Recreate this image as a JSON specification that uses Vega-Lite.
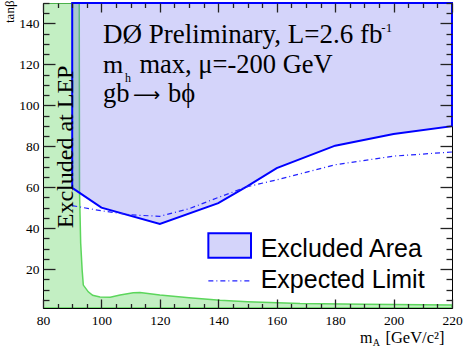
{
  "$schema": "https://vega.github.io/schema/vega-lite/v6.json",
  "width": 409,
  "height": 305,
  "autosize": {"type": "none"},
  "padding": {"left": 43, "top": 3, "right": 11, "bottom": 41},
  "background": "white",
  "config": {
    "view": {"stroke": "black", "strokeWidth": 1, "fill": null},
    "axis": {
      "labelFont": "Liberation Serif",
      "labelFontSize": 13.5,
      "labelColor": "black",
      "domainColor": "black",
      "tickColor": "#222222",
      "tickWidth": 1.3,
      "tickOpacity": 1,
      "grid": false,
      "labelFlush": false,
      "labelOverlap": false,
      "titleFont": "Liberation Serif",
      "titleFontWeight": "normal",
      "titleColor": "black"
    }
  },
  "datasets": {
    "lep": [
      {"mA": 80, "tanb": 150},
      {"mA": 92.4, "tanb": 150},
      {"mA": 92.5, "tanb": 58},
      {"mA": 92.9, "tanb": 32.6},
      {"mA": 93.4, "tanb": 19.5},
      {"mA": 93.8, "tanb": 12.2},
      {"mA": 95.5, "tanb": 8.9},
      {"mA": 97, "tanb": 7.2},
      {"mA": 99.5, "tanb": 6.4},
      {"mA": 103, "tanb": 6.2},
      {"mA": 106.4, "tanb": 7.3},
      {"mA": 110.9, "tanb": 8.4},
      {"mA": 113.2, "tanb": 8.6},
      {"mA": 120, "tanb": 7.3},
      {"mA": 130, "tanb": 6.0},
      {"mA": 140.6, "tanb": 4.8},
      {"mA": 150, "tanb": 4.1},
      {"mA": 168, "tanb": 3.2},
      {"mA": 190, "tanb": 2.8},
      {"mA": 220, "tanb": 2.5}
    ],
    "obs": [
      {"mA": 90, "tanb": 59.7, "top": 150},
      {"mA": 100, "tanb": 50, "top": 150},
      {"mA": 120, "tanb": 42.1, "top": 150},
      {"mA": 140, "tanb": 52.2, "top": 150},
      {"mA": 150, "tanb": 60.5, "top": 150},
      {"mA": 160, "tanb": 69.3, "top": 150},
      {"mA": 180, "tanb": 80.3, "top": 150},
      {"mA": 200, "tanb": 86.0, "top": 150},
      {"mA": 220, "tanb": 89.8, "top": 150}
    ],
    "exp": [
      {"mA": 90, "tanb": 51},
      {"mA": 100, "tanb": 48.5},
      {"mA": 110, "tanb": 46.5},
      {"mA": 120, "tanb": 45.8},
      {"mA": 130, "tanb": 49.5},
      {"mA": 140, "tanb": 55},
      {"mA": 150, "tanb": 60.3},
      {"mA": 160, "tanb": 63.6},
      {"mA": 180, "tanb": 71},
      {"mA": 200, "tanb": 75.2},
      {"mA": 220, "tanb": 77.2}
    ]
  },
  "resolve": {"axis": {"x": "independent", "y": "independent"}},
  "layer": [
    {
      "data": {"name": "lep"},
      "mark": {"type": "area", "fill": "#44cc44", "fillOpacity": 0.32, "stroke": "#5cd65c", "strokeWidth": 1.5, "clip": true},
      "encoding": {
        "x": {
          "field": "mA", "type": "quantitative",
          "scale": {"domain": [80, 220], "nice": false, "zero": false},
          "axis": {
            "orient": "bottom", "title": null, "ticks": false, "zindex": 1,
            "values": [80, 100, 120, 140, 160, 180, 200, 220],
            "labelPadding": 5
          }
        },
        "y": {
          "field": "tanb", "type": "quantitative",
          "scale": {"domain": [1, 150], "nice": false, "zero": false},
          "axis": {
            "orient": "left", "title": "tanβ", "titleFontSize": 13, "ticks": false, "zindex": 1,
            "titleAngle": -90, "titleX": -30, "titleY": -3, "titleAlign": "right", "titleBaseline": "alphabetic", "titleAnchor": null,
            "values": [20, 40, 60, 80, 100, 120, 140],
            "labelPadding": 4
          }
        },
        "y2": {"datum": 1}
      }
    },
    {
      "data": {"name": "obs"},
      "mark": {"type": "area", "fill": "#6666ee", "fillOpacity": 0.28, "stroke": "#0000ff", "strokeWidth": 2},
      "encoding": {
        "x": {
          "field": "mA", "type": "quantitative",
          "scale": {"domain": [80, 220], "nice": false, "zero": false},
          "axis": {
            "orient": "bottom", "title": null, "labels": false, "domain": false, "zindex": 2,
            "values": [80, 100, 120, 140, 160, 180, 200, 220],
            "tickSize": 9, "offset": -9
          }
        },
        "y": {
          "field": "tanb", "type": "quantitative",
          "scale": {"domain": [1, 150], "nice": false, "zero": false},
          "axis": {
            "orient": "left", "title": null, "labels": false, "domain": false, "zindex": 2,
            "values": [20, 40, 60, 80, 100, 120, 140],
            "tickSize": 12, "offset": -12
          }
        },
        "y2": {"field": "top"}
      }
    },
    {
      "data": {"name": "exp"},
      "mark": {"type": "line", "stroke": "#2222ff", "strokeWidth": 1.2, "strokeDash": [5, 3, 1, 3]},
      "encoding": {
        "x": {
          "field": "mA", "type": "quantitative",
          "axis": {
            "orient": "bottom", "title": null, "labels": false, "domain": false, "zindex": 2,
            "values": [85,90,95,105,110,115,125,130,135,145,150,155,165,170,175,185,190,195,205,210,215],
            "tickSize": 4.5, "offset": -4.5
          }
        },
        "y": {
          "field": "tanb", "type": "quantitative",
          "axis": {
            "orient": "left", "title": null, "labels": false, "domain": false, "zindex": 2,
            "values": [5,10,15,25,30,35,45,50,55,65,70,75,85,90,95,105,110,115,125,130,135,145,150],
            "tickSize": 6, "offset": -6
          }
        }
      }
    },
    {
      "data": {"values": [{}]},
      "mark": {"type": "rect", "fill": "#6666ee", "fillOpacity": 0.28, "stroke": "#0000ff", "strokeWidth": 2},
      "encoding": {
        "x": {"datum": 136.6, "type": "quantitative",
          "axis": {"orient": "top", "title": null, "labels": false, "domain": false, "zindex": 2,
            "values": [80, 100, 120, 140, 160, 180, 200, 220],
            "tickSize": 9, "offset": -9}},
        "x2": {"datum": 151.2},
        "y": {"datum": 37.5, "type": "quantitative",
          "axis": {"orient": "right", "title": null, "labels": false, "domain": false, "zindex": 2,
            "values": [20, 40, 60, 80, 100, 120, 140],
            "tickSize": 12, "offset": -12}},
        "y2": {"datum": 25.5}
      }
    },
    {
      "data": {"values": [{}]},
      "mark": {"type": "text", "text": "Excluded at LEP", "font": "Liberation Serif", "fontSize": 24, "angle": 270, "align": "center", "baseline": "alphabetic", "color": "black"},
      "encoding": {
        "x": {"datum": 90.2, "type": "quantitative",
          "axis": {"orient": "top", "title": null, "labels": false, "domain": false, "zindex": 2,
            "values": [85,90,95,105,110,115,125,130,135,145,150,155,165,170,175,185,190,195,205,210,215],
            "tickSize": 4.5, "offset": -4.5}},
        "y": {"datum": 79.7, "type": "quantitative",
          "axis": {"orient": "right", "title": null, "labels": false, "domain": false, "zindex": 2,
            "values": [5,10,15,25,30,35,45,50,55,65,70,75,85,90,95,105,110,115,125,130,135,145,150],
            "tickSize": 6, "offset": -6}}
      }
    },
    {
      "data": {"values": [{}]},
      "layer": [
        {
          "mark": {"type": "text", "text": "DØ Preliminary, L=2.6 fb", "font": "Liberation Serif", "fontSize": 27, "align": "left", "baseline": "alphabetic", "color": "black"},
          "encoding": {"x": {"datum": 100.5, "type": "quantitative", "axis": null}, "y": {"datum": 130.3, "type": "quantitative", "axis": null}}
        },
        {
          "mark": {"type": "text", "text": "-1", "font": "Liberation Serif", "fontSize": 13, "align": "left", "baseline": "alphabetic", "color": "black"},
          "encoding": {"x": {"datum": 195.8, "type": "quantitative", "axis": null}, "y": {"datum": 136.0, "type": "quantitative", "axis": null}}
        },
        {
          "mark": {"type": "text", "text": "m", "font": "Liberation Serif", "fontSize": 26, "align": "left", "baseline": "alphabetic", "color": "black"},
          "encoding": {"x": {"datum": 100.5, "type": "quantitative", "axis": null}, "y": {"datum": 115.7, "type": "quantitative", "axis": null}}
        },
        {
          "mark": {"type": "text", "text": "h", "font": "Liberation Serif", "fontSize": 12, "align": "left", "baseline": "alphabetic", "color": "black"},
          "encoding": {"x": {"datum": 108.1, "type": "quantitative", "axis": null}, "y": {"datum": 111.5, "type": "quantitative", "axis": null}}
        },
        {
          "mark": {"type": "text", "text": "max, μ=-200 GeV", "font": "Liberation Serif", "fontSize": 26.5, "align": "left", "baseline": "alphabetic", "color": "black"},
          "encoding": {"x": {"datum": 113.0, "type": "quantitative", "axis": null}, "y": {"datum": 115.7, "type": "quantitative", "axis": null}}
        },
        {
          "mark": {"type": "text", "text": "gb", "font": "Liberation Serif", "fontSize": 26.5, "align": "left", "baseline": "alphabetic", "color": "black"},
          "encoding": {"x": {"datum": 100.5, "type": "quantitative", "axis": null}, "y": {"datum": 101.8, "type": "quantitative", "axis": null}}
        },
        {
          "mark": {"type": "text", "text": "⟶", "font": "DejaVu Sans", "fontSize": 19, "align": "left", "baseline": "alphabetic", "color": "black"},
          "encoding": {"x": {"datum": 110.8, "type": "quantitative", "axis": null}, "y": {"datum": 102.3, "type": "quantitative", "axis": null}}
        },
        {
          "mark": {"type": "text", "text": "bϕ", "font": "Liberation Serif", "fontSize": 26.5, "align": "left", "baseline": "alphabetic", "color": "black"},
          "encoding": {"x": {"datum": 122.8, "type": "quantitative", "axis": null}, "y": {"datum": 101.8, "type": "quantitative", "axis": null}}
        },
        {
          "mark": {"type": "text", "text": "Excluded Area", "font": "Liberation Sans", "fontSize": 25, "align": "left", "baseline": "alphabetic", "color": "black"},
          "encoding": {"x": {"datum": 154.5, "type": "quantitative", "axis": null}, "y": {"datum": 25.7, "type": "quantitative", "axis": null}}
        },
        {
          "mark": {"type": "rule", "stroke": "#2222ff", "strokeWidth": 1.2, "strokeDash": [5, 3, 1, 3]},
          "encoding": {
            "x": {"datum": 136.6, "type": "quantitative", "axis": null},
            "x2": {"datum": 151.2},
            "y": {"datum": 14.3, "type": "quantitative", "axis": null}
          }
        },
        {
          "mark": {"type": "text", "text": "Expected Limit", "font": "Liberation Sans", "fontSize": 25, "align": "left", "baseline": "alphabetic", "color": "black"},
          "encoding": {"x": {"datum": 154.5, "type": "quantitative", "axis": null}, "y": {"datum": 10.6, "type": "quantitative", "axis": null}}
        },
        {
          "mark": {"type": "text", "text": "m", "font": "Liberation Serif", "fontSize": 16, "align": "left", "baseline": "alphabetic", "color": "black"},
          "encoding": {"x": {"datum": 188.5, "type": "quantitative", "axis": null}, "y": {"datum": -16.0, "type": "quantitative", "axis": null}}
        },
        {
          "mark": {"type": "text", "text": "A", "font": "Liberation Serif", "fontSize": 10, "align": "left", "baseline": "alphabetic", "color": "black"},
          "encoding": {"x": {"datum": 192.9, "type": "quantitative", "axis": null}, "y": {"datum": -17.4, "type": "quantitative", "axis": null}}
        },
        {
          "mark": {"type": "text", "text": "[GeV/c²]", "font": "Liberation Serif", "fontSize": 16.5, "align": "left", "baseline": "alphabetic", "color": "black"},
          "encoding": {"x": {"datum": 197.2, "type": "quantitative", "axis": null}, "y": {"datum": -16.0, "type": "quantitative", "axis": null}}
        }
      ]
    }
  ]
}
